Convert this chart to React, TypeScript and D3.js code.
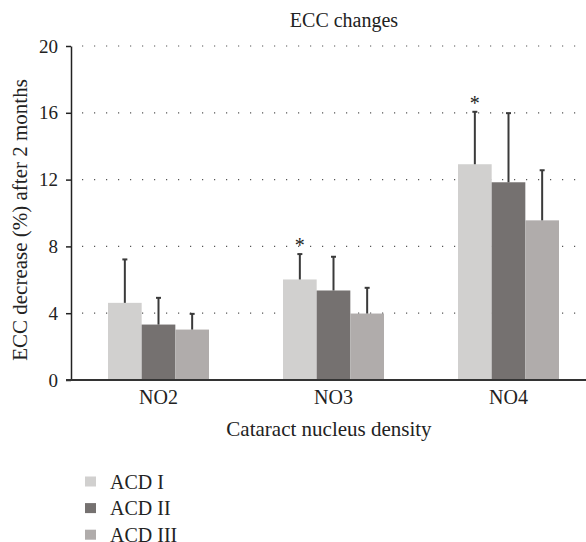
import React, { useEffect, useRef } from "react";
import * as d3 from "d3";

// values
const categories = ["NO2", "NO3", "NO4"];
const seriesNames = ["ACD I", "ACD II", "ACD III"];
const meanACD1 = [4.62, 6.02, 12.92];
const meanACD2 = [3.32, 5.36, 11.84];
const meanACD3 = [3.02, 3.98, 9.56];
const sdACD1 = [2.6, 1.52, 3.14];
const sdACD2 = [1.6, 2.02, 4.14];
const sdACD3 = [0.94, 1.54, 3.0];
const starsACD1 = [false, true, true];
const yTicks = [0, 4, 8, 12, 16, 20];
const colors = ["#d1d0cf", "#757170", "#b0acab"];

const App = () => {
  const svgRef = useRef<SVGSVGElement>(null);

  useEffect(() => {
    const svg = d3.select(svgRef.current);
    svg.selectAll("*").remove();

    const width = 586;
    const height = 542;
    const margin = { top: 46, right: 0, bottom: 162, left: 71 };
    const font = "'Liberation Serif', 'Times New Roman', serif";

    const means = [meanACD1, meanACD2, meanACD3];
    const sds = [sdACD1, sdACD2, sdACD3];
    const stars = [starsACD1, [false, false, false], [false, false, false]];

    const rows = categories.flatMap((c, ci) =>
      seriesNames.map((s, si) => ({
        cat: c,
        series: s,
        si,
        mean: means[si][ci],
        sd: sds[si][ci],
        star: stars[si][ci],
      }))
    );

    // the figure is cropped on the right, the last group's band runs past the edge
    const x0 = d3.scaleBand()
      .domain(categories)
      .range([margin.left, 596])
      .paddingInner(0.423)
      .paddingOuter(0.2115);

    const x1 = d3.scaleBand()
      .domain(seriesNames)
      .range([0, x0.bandwidth()]);

    const y = d3.scaleLinear()
      .domain([0, 20])
      .range([height - margin.bottom, margin.top]);

    svg.attr("width", width).attr("height", height);

    // dotted grid
    svg.append("g")
      .selectAll("line")
      .data(yTicks.filter(t => t > 0))
      .enter()
      .append("line")
      .attr("x1", margin.left + 11)
      .attr("x2", 580)
      .attr("y1", d => y(d))
      .attr("y2", d => y(d))
      .attr("stroke", "#555")
      .attr("stroke-width", 1.2)
      .attr("stroke-dasharray", "1.2,10.8");

    // bars
    svg.append("g")
      .selectAll("rect")
      .data(rows)
      .enter()
      .append("rect")
      .attr("x", d => x0(d.cat)! + x1(d.series)!)
      .attr("y", d => y(d.mean))
      .attr("width", x1.bandwidth())
      .attr("height", d => y(0) - y(d.mean))
      .attr("fill", d => colors[d.si]);

    // error bars
    const err = svg.append("g")
      .attr("stroke", "#3a3a3a")
      .attr("stroke-width", 2);
    const cx = (d: typeof rows[number]) => x0(d.cat)! + x1(d.series)! + x1.bandwidth() / 2;
    err.selectAll(".v")
      .data(rows)
      .enter()
      .append("line")
      .attr("x1", cx)
      .attr("x2", cx)
      .attr("y1", d => y(d.mean))
      .attr("y2", d => y(d.mean + d.sd));
    err.selectAll(".cap")
      .data(rows)
      .enter()
      .append("line")
      .attr("x1", d => cx(d) - 2.5)
      .attr("x2", d => cx(d) + 2.5)
      .attr("y1", d => y(d.mean + d.sd))
      .attr("y2", d => y(d.mean + d.sd));

    // significance marks
    svg.append("g")
      .selectAll("text")
      .data(rows.filter(d => d.star))
      .enter()
      .append("text")
      .attr("x", cx)
      .attr("y", d => y(d.mean + d.sd) - 2)
      .attr("text-anchor", "middle")
      .style("font-family", font)
      .style("font-size", "20px")
      .style("fill", "#222")
      .text("*");

    // y axis
    const yAxis = svg.append("g")
      .attr("transform", `translate(${margin.left},0)`)
      .call(d3.axisLeft(y).tickValues(yTicks).tickSize(5).tickPadding(8).tickSizeOuter(0));
    yAxis.select(".domain").attr("stroke", "#222").attr("stroke-width", 1.5);
    yAxis.selectAll(".tick line").attr("stroke", "#222").attr("stroke-width", 1.5);
    yAxis.selectAll("text")
      .style("font-family", font)
      .style("font-size", "19px")
      .style("fill", "#222");

    // x axis
    const xAxis = svg.append("g")
      .attr("transform", `translate(0,${y(0)})`)
      .call(d3.axisBottom(x0).tickSize(0).tickPadding(10));
    xAxis.select(".domain").remove();
    xAxis.append("line")
      .attr("x1", margin.left - 5)
      .attr("x2", width)
      .attr("stroke", "#333")
      .attr("stroke-width", 2);
    xAxis.selectAll("text")
      .style("font-family", font)
      .style("font-size", "20px")
      .style("fill", "#222");

    // titles
    svg.append("text")
      .attr("x", 344)
      .attr("y", 27)
      .attr("text-anchor", "middle")
      .style("font-family", font)
      .style("font-size", "20px")
      .style("fill", "#222")
      .text("ECC changes");

    svg.append("text")
      .attr("x", 329)
      .attr("y", 436)
      .attr("text-anchor", "middle")
      .style("font-family", font)
      .style("font-size", "21px")
      .style("fill", "#222")
      .text("Cataract nucleus density");

    svg.append("text")
      .attr("transform", `translate(27,220) rotate(-90)`)
      .attr("text-anchor", "middle")
      .style("font-family", font)
      .style("font-size", "21px")
      .style("fill", "#222")
      .text("ECC decrease (%) after 2 months");

    // legend
    const legend = svg.append("g")
      .selectAll("g")
      .data(seriesNames)
      .enter()
      .append("g")
      .attr("transform", (d, i) => `translate(85,${476.5 + i * 26.6})`);
    legend.append("rect")
      .attr("width", 11)
      .attr("height", 10)
      .attr("fill", (d, i) => colors[i]);
    legend.append("text")
      .attr("x", 25)
      .attr("y", 5)
      .attr("dy", "0.35em")
      .style("font-family", font)
      .style("font-size", "20px")
      .style("fill", "#222")
      .text(d => d);
  }, []);

  return <svg ref={svgRef} style={{ position: "absolute", left: 0, top: 0 }} />;
};

export default App;
